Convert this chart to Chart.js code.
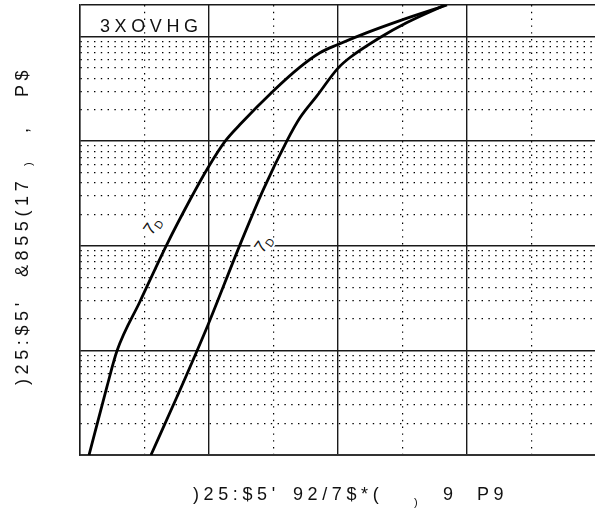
<!DOCTYPE html>
<html>
<head>
<meta charset="utf-8">
<script src="https://cdn.jsdelivr.net/npm/chart.js@4.4.1/dist/chart.umd.min.js"></script>
<style>
  html, body { margin: 0; padding: 0; background: #fff; overflow: hidden; }
  #wrap { position: relative; width: 600px; height: 511px; }
  #wrap canvas { position: absolute; left: 0; top: 0; }
  .t { position: absolute; font-family: "Liberation Sans", Arial, sans-serif; font-size: 18px;
       line-height: 18px; letter-spacing: 4.6px; color: #111; white-space: nowrap; }
  .sub { font-size: 11px; line-height: 11px; letter-spacing: 0; }
  #ytitle { position: absolute; left: 13px; top: 385px; width: 330px; height: 20px;
            transform-origin: 0 0; transform: rotate(-90deg); }
  .lbl { position: absolute; background: #fff; font-family: "Liberation Sans", Arial, sans-serif;
         color: #111; transform: rotate(-55deg); white-space: nowrap; padding: 0 1px; }
</style>
</head>
<body>
<div id="wrap">
  <canvas id="c" width="600" height="511"></canvas>

  <div class="t" style="left:100px; top:17px;">3XOVHG</div>

  <div class="t" style="left:193px; top:485px;">)25:$5'</div>
  <div class="t" style="left:293px; top:485px;">92/7$*(</div>
  <div class="t sub" style="left:414px; top:497px;">)</div>
  <div class="t" style="left:443px; top:485px;">9</div>
  <div class="t" style="left:477px; top:485px;">P9</div>

  <div id="ytitle">
    <div class="t" style="left:0px; top:0px;">)25:$5'</div>
    <div class="t" style="left:108px; top:0px;">&amp;855(17</div>
    <div class="t sub" style="left:219px; top:10px;">)</div>
    <div class="t" style="left:252px; top:0px;">,</div>
    <div class="t" style="left:288px; top:0px;">P$</div>
  </div>

  <div class="lbl" style="left:143px; top:216px;"><span style="font-size:17px;">7</span><span style="font-size:11px; position:relative; top:3px;">D</span></div>
  <div class="lbl" style="left:254px; top:234px;"><span style="font-size:17px;">7</span><span style="font-size:11px; position:relative; top:3px;">D</span></div>
</div>

<script>
// axis ticks (grid only, labels hidden)
const xTicks = [0, 0.5, 1, 1.5, 2, 2.5, 3, 3.5, 4];
const yTicks = [1, 2, 3, 4, 5, 6, 7, 8, 9,
                10, 20, 30, 40, 50, 60, 70, 80, 90,
                100, 200, 300, 400, 500, 600, 700, 800, 900,
                1000, 2000, 3000, 4000, 5000, 6000, 7000, 8000, 9000,
                10000, 20000];

// left curve
const leftX = [0.070, 0.209, 0.287, 0.465, 0.672, 0.853, 0.992, 1.124, 1.240, 1.496, 1.705, 1.860, 2.000, 2.225, 2.481, 2.845];
const leftY = [1, 4.5, 9.9, 29.3, 102, 275, 557, 995, 1440, 3000, 5100, 7000, 8400, 10900, 14200, 20000];

// right curve
const rightX = [0.550, 0.752, 0.992, 1.240, 1.421, 1.602, 1.705, 1.835, 2.002, 2.093, 2.326, 2.535, 2.830];
const rightY = [1, 3.6, 17.5, 102, 344, 995, 1670, 2690, 5010, 6300, 9780, 13600, 20000];

const pts = (xs, ys) => xs.map((x, i) => ({ x, y: ys[i] }));

const isMajorX = v => Number.isInteger(v);
const isMajorY = v => v === 20000 || Math.abs(Math.log10(v) - Math.round(Math.log10(v))) < 1e-9;

const DOT = [1.4, 5.4];

function curve(data) {
  return { data, borderColor: '#000', borderWidth: 2.8, pointRadius: 0,
           cubicInterpolationMode: 'monotone', fill: false };
}

new Chart(document.getElementById('c'), {
  type: 'line',
  data: { datasets: [curve(pts(leftX, leftY)), curve(pts(rightX, rightY))] },
  options: {
    responsive: false,
    animation: false,
    layout: { padding: { left: 80, top: 5, right: 4, bottom: 56 } },
    plugins: { legend: { display: false }, tooltip: { enabled: false } },
    scales: {
      x: {
        type: 'linear', min: 0, max: 4,
        afterBuildTicks: s => { s.ticks = xTicks.map(v => ({ value: v, major: isMajorX(v) })); },
        ticks: { display: false },
        grid: {
          drawTicks: false,
          color: ctx => isMajorX(ctx.tick.value) ? '#1a1a1a' : '#000',
          lineWidth: ctx => isMajorX(ctx.tick.value) ? 1.4 : 1.2,
        },
        border: { display: true, color: '#333', width: 2,
                  dash: ctx => (ctx.tick && !isMajorX(ctx.tick.value)) ? DOT : [] },
      },
      y: {
        type: 'logarithmic', min: 1, max: 20000,
        afterBuildTicks: s => { s.ticks = yTicks.map(v => ({ value: v, major: isMajorY(v) })); },
        ticks: { display: false },
        grid: {
          drawTicks: false,
          color: ctx => isMajorY(ctx.tick.value) ? '#1a1a1a' : '#000',
          lineWidth: ctx => isMajorY(ctx.tick.value) ? 1.4 : 1.2,
        },
        border: { display: true, color: '#1a1a1a', width: 1.4,
                  dash: ctx => (ctx.tick && !isMajorY(ctx.tick.value)) ? DOT : [] },
      },
    },
  },
});
</script>
</body>
</html>
